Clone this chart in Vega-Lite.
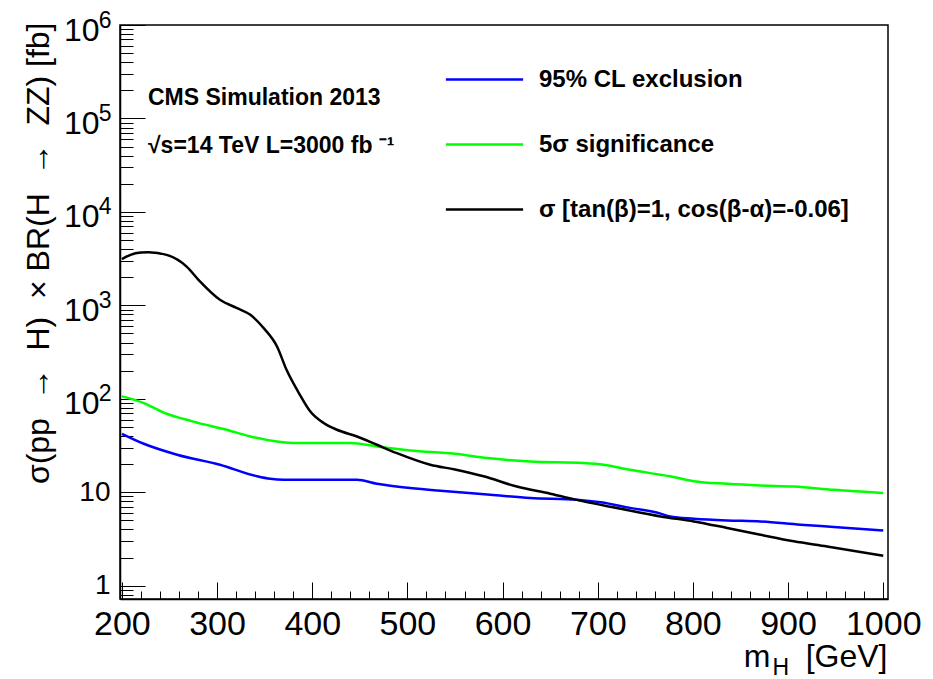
{
  "$schema": "https://vega.github.io/schema/vega-lite/v6.json",
  "width": 768,
  "height": 574,
  "autosize": {"type": "none"},
  "padding": {"left": 120, "top": 25, "right": 45, "bottom": 80},
  "background": "white",
  "config": {
    "view": {"stroke": "black", "strokeWidth": 1.5},
    "font": "Liberation Sans",
    "axis": {"domainColor": "black", "domainWidth": 1.5, "tickColor": "black", "tickWidth": 1, "grid": false, "labelColor": "black", "titleColor": "black", "labelFont": "Liberation Sans", "titleFont": "Liberation Sans", "titleFontWeight": "normal"}
  },
  "title": {
    "text": "CMS Simulation 2013",
    "subtitle": "√s=14 TeV L=3000 fb ⁻¹",
    "anchor": "start",
    "frame": "group",
    "orient": "top",
    "offset": 0,
    "dx": 28,
    "dy": 149,
    "font": "Liberation Sans",
    "fontSize": 23,
    "fontWeight": "bold",
    "color": "black",
    "subtitleFont": "Liberation Sans",
    "subtitleFontSize": 23,
    "subtitleFontWeight": "bold",
    "subtitleColor": "black",
    "subtitlePadding": 25
  },
  "data": {
    "values": [
      {"m": 200, "v": 42.2, "s": "95% CL exclusion"},
      {"m": 223, "v": 33, "s": "95% CL exclusion"},
      {"m": 258, "v": 25.2, "s": "95% CL exclusion"},
      {"m": 303, "v": 19.7, "s": "95% CL exclusion"},
      {"m": 342, "v": 14.8, "s": "95% CL exclusion"},
      {"m": 356, "v": 13.9, "s": "95% CL exclusion"},
      {"m": 370, "v": 13.6, "s": "95% CL exclusion"},
      {"m": 447, "v": 13.6, "s": "95% CL exclusion"},
      {"m": 468, "v": 12.3, "s": "95% CL exclusion"},
      {"m": 503, "v": 11.1, "s": "95% CL exclusion"},
      {"m": 538, "v": 10.3, "s": "95% CL exclusion"},
      {"m": 587, "v": 9.4, "s": "95% CL exclusion"},
      {"m": 629, "v": 8.67, "s": "95% CL exclusion"},
      {"m": 678, "v": 8.3, "s": "95% CL exclusion"},
      {"m": 703, "v": 7.8, "s": "95% CL exclusion"},
      {"m": 734, "v": 6.8, "s": "95% CL exclusion"},
      {"m": 766, "v": 5.9, "s": "95% CL exclusion"},
      {"m": 776, "v": 5.5, "s": "95% CL exclusion"},
      {"m": 801, "v": 5.21, "s": "95% CL exclusion"},
      {"m": 836, "v": 4.99, "s": "95% CL exclusion"},
      {"m": 871, "v": 4.87, "s": "95% CL exclusion"},
      {"m": 913, "v": 4.49, "s": "95% CL exclusion"},
      {"m": 948, "v": 4.25, "s": "95% CL exclusion"},
      {"m": 1000, "v": 3.9, "s": "95% CL exclusion"},
      {"m": 200, "v": 106, "s": "5σ significance"},
      {"m": 223, "v": 90, "s": "5σ significance"},
      {"m": 244, "v": 71, "s": "5σ significance"},
      {"m": 275, "v": 57, "s": "5σ significance"},
      {"m": 310, "v": 46.6, "s": "5σ significance"},
      {"m": 335, "v": 39.5, "s": "5σ significance"},
      {"m": 363, "v": 34.9, "s": "5σ significance"},
      {"m": 384, "v": 33.6, "s": "5σ significance"},
      {"m": 440, "v": 33.6, "s": "5σ significance"},
      {"m": 468, "v": 30.9, "s": "5σ significance"},
      {"m": 503, "v": 28, "s": "5σ significance"},
      {"m": 550, "v": 25.8, "s": "5σ significance"},
      {"m": 584, "v": 23.2, "s": "5σ significance"},
      {"m": 629, "v": 21.3, "s": "5σ significance"},
      {"m": 685, "v": 20.5, "s": "5σ significance"},
      {"m": 706, "v": 19.7, "s": "5σ significance"},
      {"m": 734, "v": 17.4, "s": "5σ significance"},
      {"m": 766, "v": 15.4, "s": "5σ significance"},
      {"m": 776, "v": 14.8, "s": "5σ significance"},
      {"m": 801, "v": 13.1, "s": "5σ significance"},
      {"m": 836, "v": 12.3, "s": "5σ significance"},
      {"m": 871, "v": 11.8, "s": "5σ significance"},
      {"m": 906, "v": 11.5, "s": "5σ significance"},
      {"m": 948, "v": 10.6, "s": "5σ significance"},
      {"m": 1000, "v": 9.8, "s": "5σ significance"},
      {"m": 200, "v": 3120, "s": "σ [tan(β)=1, cos(β-α)=-0.06]"},
      {"m": 209, "v": 3470, "s": "σ [tan(β)=1, cos(β-α)=-0.06]"},
      {"m": 220, "v": 3670, "s": "σ [tan(β)=1, cos(β-α)=-0.06]"},
      {"m": 228, "v": 3700, "s": "σ [tan(β)=1, cos(β-α)=-0.06]"},
      {"m": 247, "v": 3470, "s": "σ [tan(β)=1, cos(β-α)=-0.06]"},
      {"m": 268, "v": 2600, "s": "σ [tan(β)=1, cos(β-α)=-0.06]"},
      {"m": 282, "v": 1800, "s": "σ [tan(β)=1, cos(β-α)=-0.06]"},
      {"m": 303, "v": 1145, "s": "σ [tan(β)=1, cos(β-α)=-0.06]"},
      {"m": 321, "v": 933, "s": "σ [tan(β)=1, cos(β-α)=-0.06]"},
      {"m": 335, "v": 792, "s": "σ [tan(β)=1, cos(β-α)=-0.06]"},
      {"m": 349, "v": 570, "s": "σ [tan(β)=1, cos(β-α)=-0.06]"},
      {"m": 363, "v": 363, "s": "σ [tan(β)=1, cos(β-α)=-0.06]"},
      {"m": 373, "v": 204, "s": "σ [tan(β)=1, cos(β-α)=-0.06]"},
      {"m": 386, "v": 115, "s": "σ [tan(β)=1, cos(β-α)=-0.06]"},
      {"m": 398, "v": 73, "s": "σ [tan(β)=1, cos(β-α)=-0.06]"},
      {"m": 412, "v": 55, "s": "σ [tan(β)=1, cos(β-α)=-0.06]"},
      {"m": 426, "v": 46.6, "s": "σ [tan(β)=1, cos(β-α)=-0.06]"},
      {"m": 447, "v": 39.5, "s": "σ [tan(β)=1, cos(β-α)=-0.06]"},
      {"m": 468, "v": 32.2, "s": "σ [tan(β)=1, cos(β-α)=-0.06]"},
      {"m": 489, "v": 26.2, "s": "σ [tan(β)=1, cos(β-α)=-0.06]"},
      {"m": 524, "v": 19.7, "s": "σ [tan(β)=1, cos(β-α)=-0.06]"},
      {"m": 550, "v": 17.5, "s": "σ [tan(β)=1, cos(β-α)=-0.06]"},
      {"m": 580, "v": 14.8, "s": "σ [tan(β)=1, cos(β-α)=-0.06]"},
      {"m": 615, "v": 11.5, "s": "σ [tan(β)=1, cos(β-α)=-0.06]"},
      {"m": 650, "v": 9.64, "s": "σ [tan(β)=1, cos(β-α)=-0.06]"},
      {"m": 685, "v": 7.98, "s": "σ [tan(β)=1, cos(β-α)=-0.06]"},
      {"m": 720, "v": 6.78, "s": "σ [tan(β)=1, cos(β-α)=-0.06]"},
      {"m": 766, "v": 5.5, "s": "σ [tan(β)=1, cos(β-α)=-0.06]"},
      {"m": 801, "v": 4.87, "s": "σ [tan(β)=1, cos(β-α)=-0.06]"},
      {"m": 836, "v": 4.14, "s": "σ [tan(β)=1, cos(β-α)=-0.06]"},
      {"m": 871, "v": 3.5, "s": "σ [tan(β)=1, cos(β-α)=-0.06]"},
      {"m": 906, "v": 2.98, "s": "σ [tan(β)=1, cos(β-α)=-0.06]"},
      {"m": 941, "v": 2.63, "s": "σ [tan(β)=1, cos(β-α)=-0.06]"},
      {"m": 1000, "v": 2.09, "s": "σ [tan(β)=1, cos(β-α)=-0.06]"}
    ]
  },
  "resolve": {"axis": {"x": "independent", "y": "independent"}},
  "layer": [
    {
      "mark": {"type": "line", "strokeWidth": 2.5, "interpolate": "monotone", "clip": true},
      "encoding": {
        "x": {
          "field": "m", "type": "quantitative",
          "scale": {"domain": [198, 1005], "nice": false, "zero": false},
          "axis": {
            "orient": "bottom",
            "values": [200, 300, 400, 500, 600, 700, 800, 900, 1000],
            "tickSize": -17,
            "labelExpr": "'' + datum.value",
            "labelFontSize": 34,
            "labelPadding": 25,
            "labelBaseline": "top",
            "labelFlush": false,
            "labelOverlap": false,
            "title": "[GeV]",
            "titleFontSize": 32,
            "titleX": 767,
            "titleY": 67,
            "titleAlign": "right",
            "titleAnchor": "end",
            "titleBaseline": "alphabetic"
          }
        },
        "y": {
          "field": "v", "type": "quantitative",
          "scale": {"type": "log", "domain": [0.72, 1000000], "nice": false},
          "axis": {
            "orient": "left",
            "values": [1, 10, 100, 1000, 10000, 100000, 1000000],
            "tickSize": -25,
            "labelExpr": "datum.value == 1 ? '1' : '10'",
            "labelFontSize": {"condition": {"test": "datum.value >= 100", "value": 32}, "value": 28},
            "labelPadding": {"condition": {"test": "datum.value >= 100", "value": 46}, "value": 35},
            "labelOffset": {"condition": {"test": "datum.value >= 100", "value": 5}, "value": 0},
            "labelBaseline": "middle",
            "labelAlign": "right",
            "labelFlush": false,
            "labelOverlap": false,
            "title": "σ(pp\u00a0\u00a0→\u00a0\u00a0H)\u00a0\u00a0×\u00a0BR(H\u00a0\u00a0→\u00a0\u00a0ZZ)\u00a0[fb]",
            "titleFontSize": 32,
            "titleX": -82,
            "titleY": -3,
            "titleAngle": -90,
            "titleAlign": "right",
            "titleBaseline": "middle"
          }
        },
        "color": {
          "field": "s", "type": "nominal",
          "scale": {"domain": ["95% CL exclusion", "5σ significance", "σ [tan(β)=1, cos(β-α)=-0.06]"], "range": ["#0000ff", "#00ff00", "#000000"]},
          "legend": {
            "orient": "none",
            "legendX": 330,
            "legendY": 20,
            "title": null,
            "padding": 0,
            "rowPadding": 18,
            "symbolType": "M-1.17,0H1.17",
            "symbolSize": 4356,
            "symbolStrokeWidth": 2.5,
            "labelFont": "Liberation Sans",
            "labelFontSize": 24,
            "labelFontWeight": "bold",
            "labelColor": "black",
            "labelOffset": 20,
            "labelLimit": 0
          }
        }
      }
    },
    {
      "mark": {"type": "line", "opacity": 0},
      "encoding": {
        "x": {
          "field": "m", "type": "quantitative",
          "axis": {
            "orient": "bottom", "domain": false, "labels": false,
            "values": [220,240,260,280,320,340,360,380,420,440,460,480,520,540,560,580,620,640,660,680,720,740,760,780,820,840,860,880,920,940,960,980],
            "tickSize": -8,
            "title": "H", "titleFontSize": 23, "titleX": 652, "titleY": 75,
            "titleAlign": "left", "titleAnchor": "end", "titleBaseline": "alphabetic"
          }
        },
        "y": {
          "field": "v", "type": "quantitative",
          "axis": {
            "orient": "left", "domain": false, "labels": false,
            "values": [0.8,0.9,2,3,4,5,6,7,8,9,20,30,40,50,60,70,80,90,200,300,400,500,600,700,800,900,2000,3000,4000,5000,6000,7000,8000,9000,20000,30000,40000,50000,60000,70000,80000,90000,200000,300000,400000,500000,600000,700000,800000,900000],
            "tickSize": -13,
            "title": null
          }
        },
        "detail": {"field": "s"}
      }
    },
    {
      "mark": {"type": "line", "opacity": 0},
      "encoding": {
        "x": {
          "field": "m", "type": "quantitative",
          "axis": {
            "orient": "bottom", "domain": false, "labels": false, "ticks": false,
            "title": "m", "titleFontSize": 32, "titleX": 650, "titleY": 67,
            "titleAlign": "right", "titleAnchor": "end", "titleBaseline": "alphabetic"
          }
        },
        "y": {
          "field": "v", "type": "quantitative",
          "axis": {
            "orient": "left", "domain": false, "ticks": false,
            "values": [100, 1000, 10000, 100000, 1000000],
            "labelExpr": "'' + round(log(datum.value)/LN10)",
            "labelFontSize": 23,
            "labelPadding": 9,
            "labelOffset": -5,
            "labelBaseline": "middle",
            "labelAlign": "right",
            "labelFlush": false,
            "labelOverlap": false,
            "title": null
          }
        },
        "detail": {"field": "s"}
      }
    }
  ]
}
